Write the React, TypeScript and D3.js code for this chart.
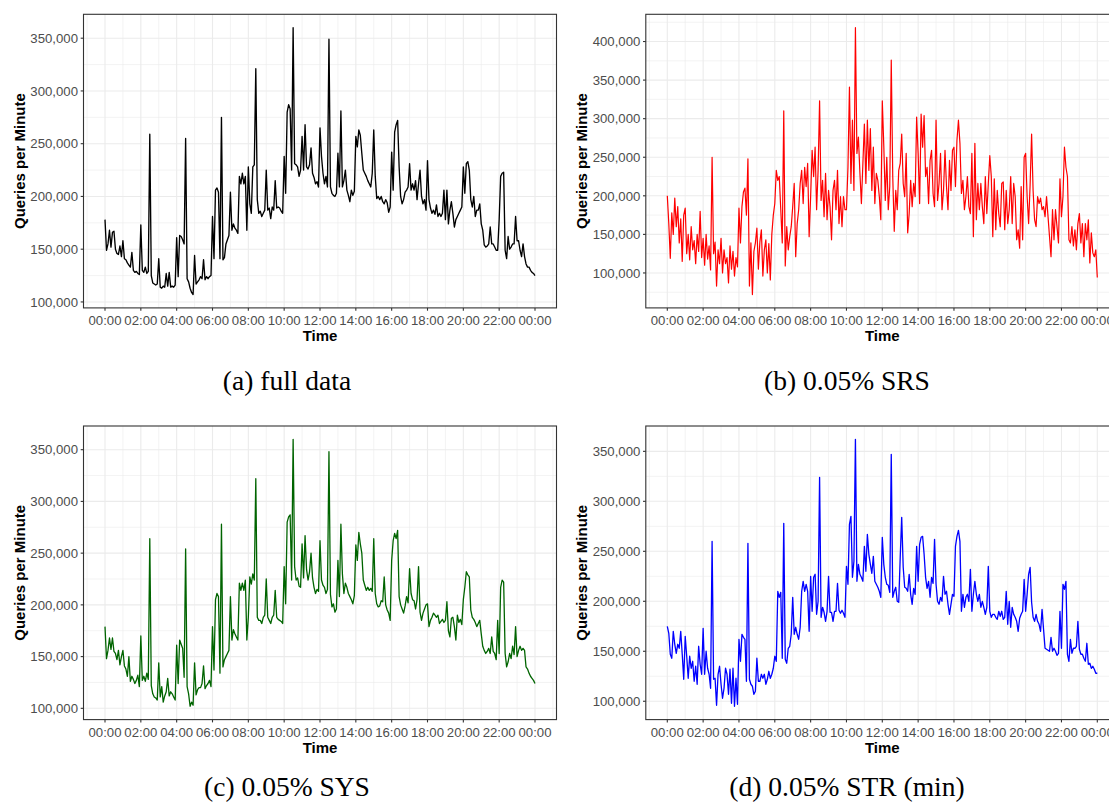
import React from "react";
import * as d3 from "d3";

// Queries per minute over one day, in thousands, one reading every 5 minutes (00:00 … 24:00).
const STEP_MINUTES = 5;

const FULL_DATA = [
  178, 149, 155, 168, 152, 166, 167, 150, 146, 145, 153, 143,
  158, 141, 140, 137, 135, 133, 147, 130, 128, 129, 127, 126,
  173, 130, 128, 133, 127, 129, 259, 125, 118, 117, 116, 117,
  141, 114, 113, 115, 114, 127, 115, 128, 114, 115, 114, 116,
  161, 124, 163, 162, 159, 155, 255, 122, 119, 113, 109, 107,
  144, 117, 119, 121, 124, 122, 140, 121, 124, 122, 124, 125,
  181, 141, 206, 208, 204, 141, 275, 140, 142, 155, 159, 163,
  204, 168, 174, 170, 168, 165, 219, 212, 222, 212, 219, 168,
  228, 193, 184, 228, 230, 321, 197, 184, 186, 181, 184, 187,
  225, 187, 189, 179, 190, 187, 215, 189, 190, 189, 186, 184,
  238, 203, 280, 287, 283, 225, 360, 231, 230, 228, 219, 225,
  257, 225, 268, 228, 226, 230, 246, 222, 218, 212, 214, 209,
  265, 238, 222, 212, 219, 209, 349, 209, 203, 201, 200, 203,
  241, 209, 281, 209, 215, 225, 206, 201, 195, 206, 201, 205,
  257, 247, 263, 258, 241, 225, 222, 219, 215, 212, 209, 222,
  263, 219, 198, 200, 197, 200, 195, 193, 197, 194, 185, 190,
  242, 206, 261, 268, 272, 228, 200, 193, 197, 204, 206, 209,
  231, 206, 212, 206, 215, 197, 212, 225, 200, 193, 197, 187,
  234, 197, 189, 184, 187, 183, 192, 181, 184, 181, 184, 206,
  178, 206, 174, 187, 195, 184, 171, 178, 181, 184, 187, 190,
  228, 203, 231, 233, 225, 197, 190, 200, 181, 187, 187, 193,
  174, 168, 154, 152, 153, 155, 171, 155, 155, 152, 149, 149,
  178, 219, 222, 223, 149, 141, 162, 150, 152, 155, 155, 181,
  158, 158, 149, 143, 155, 143, 136, 133, 133, 130, 128, 127,
  125,
];

const SRS_DATA = [
  200, 164, 119, 178, 150, 197, 160, 186, 139, 170, 115, 175,
  184, 125, 150, 117, 160, 130, 142, 112, 150, 128, 180, 120,
  145, 110, 150, 118, 135, 104, 250, 125, 140, 83, 130, 112,
  145, 100, 130, 112, 120, 87, 135, 105, 128, 96, 120, 108,
  184, 139, 186, 205, 210, 175, 248, 83, 139, 72, 128, 139,
  158, 105, 140, 156, 96, 130, 143, 100, 138, 91, 150, 175,
  190, 233, 220, 225, 182, 139, 310, 109, 160, 130, 147, 160,
  186, 216, 121, 164, 182, 216, 233, 190, 237, 212, 242, 147,
  199, 259, 225, 263, 182, 233, 323, 194, 220, 173, 229, 169,
  207, 186, 143, 207, 220, 182, 233, 164, 199, 160, 199, 182,
  182, 237, 341, 216, 298, 207, 418, 255, 276, 230, 190, 242,
  293, 216, 298, 233, 287, 207, 263, 190, 229, 220, 199, 169,
  323, 265, 194, 250, 182, 212, 376, 225, 154, 207, 182, 233,
  242, 280, 216, 199, 255, 152, 177, 220, 186, 216, 199, 302,
  255, 190, 306, 263, 304, 225, 237, 190, 246, 259, 203, 186,
  298, 194, 216, 255, 182, 207, 259, 212, 182, 246, 207, 259,
  263, 212, 272, 298, 268, 203, 220, 182, 199, 225, 186, 177,
  255, 147, 268, 169, 216, 182, 216, 186, 164, 225, 177, 216,
  252, 225, 147, 222, 156, 207, 177, 160, 216, 218, 156, 207,
  164, 182, 225, 164, 216, 199, 143, 156, 132, 212, 143, 250,
  255, 199, 164, 214, 280, 207, 169, 160, 199, 190, 197, 182,
  186, 173, 199, 173, 147, 121, 182, 143, 182, 160, 139, 222,
  173, 199, 263, 237, 225, 143, 139, 160, 135, 156, 130, 164,
  177, 139, 164, 121, 164, 143, 169, 113, 152, 126, 121, 130,
  94,
];

const SYS_DATA = [
  179, 148, 156, 168, 157, 168, 155, 153, 147, 156, 142, 150,
  156, 141, 138, 131, 150, 126, 131, 128, 124, 127, 132, 121,
  170, 127, 131, 126, 134, 128, 264, 122, 114, 111, 110, 108,
  144, 111, 121, 106, 112, 116, 129, 112, 116, 114, 111, 108,
  161, 124, 166, 162, 158, 130, 254, 121, 114, 102, 106, 103,
  144, 113, 118, 120, 120, 124, 141, 119, 122, 124, 127, 121,
  179, 137, 205, 211, 208, 134, 278, 140, 147, 150, 153, 156,
  208, 166, 176, 172, 169, 166, 221, 214, 221, 214, 224, 166,
  188, 227, 220, 230, 224, 322, 188, 185, 185, 182, 188, 190,
  225, 188, 185, 182, 188, 190, 214, 188, 186, 185, 184, 182,
  237, 201, 280, 285, 287, 224, 360, 237, 224, 226, 218, 217,
  259, 226, 267, 234, 224, 232, 250, 226, 217, 211, 215, 213,
  262, 224, 219, 217, 211, 215, 348, 210, 198, 201, 193, 196,
  243, 208, 278, 230, 211, 221, 217, 211, 208, 205, 201, 209,
  258, 243, 270, 259, 250, 224, 219, 214, 217, 214, 216, 213,
  264, 211, 201, 198, 199, 204, 203, 227, 200, 195, 192, 185,
  243, 262, 269, 264, 272, 208, 200, 196, 192, 199, 208, 202,
  235, 211, 205, 204, 196, 205, 237, 193, 185, 192, 196, 200,
  201, 179, 185, 188, 192, 190, 188, 190, 182, 184, 186, 183,
  185, 203, 175, 169, 187, 188, 179, 166, 190, 183, 186, 181,
  205, 217, 232, 229, 227, 195, 188, 186, 183, 179, 182, 185,
  172, 160, 156, 153, 155, 158, 153, 169, 155, 153, 147, 185,
  153, 217, 224, 222, 153, 140, 145, 153, 148, 160, 152, 179,
  150, 156, 160, 156, 158, 156, 140, 138, 134, 131, 129, 127,
  124,
];

const STR_DATA = [
  175, 168, 147, 143, 170, 157, 148, 157, 153, 170, 147, 122,
  165, 145, 123, 145, 133, 140, 120, 135, 117, 155, 137, 127,
  173, 127, 150, 133, 127, 113, 260, 122, 123, 96, 127, 135,
  117, 103, 113, 133, 127, 107, 132, 98, 133, 95, 123, 97,
  162, 140, 167, 164, 162, 120, 258, 122, 117, 115, 107, 110,
  143, 120, 120, 127, 123, 127, 117, 122, 130, 123, 127, 133,
  145, 140, 210, 204, 209, 143, 278, 142, 138, 153, 155, 167,
  204, 167, 174, 167, 162, 174, 210, 220, 210, 217, 210, 170,
  225, 190, 224, 227, 187, 200, 324, 184, 194, 189, 180, 190,
  225, 189, 189, 180, 190, 190, 218, 191, 188, 191, 188, 184,
  235, 217, 277, 285, 224, 240, 362, 220, 237, 227, 224, 220,
  255, 230, 267, 247, 237, 228, 245, 220, 217, 214, 210, 204,
  264, 237, 224, 217, 216, 209, 347, 204, 210, 214, 200, 199,
  244, 284, 234, 214, 213, 210, 227, 207, 197, 213, 207, 255,
  220, 257, 264, 265, 247, 224, 213, 220, 204, 224, 218, 262,
  217, 200, 197, 204, 200, 225, 207, 210, 197, 187, 197, 207,
  205, 255, 265, 271, 260, 190, 207, 194, 204, 207, 200, 232,
  190, 207, 220, 207, 200, 207, 194, 200, 194, 187, 194, 235,
  190, 184, 187, 187, 184, 182, 190, 185, 190, 182, 184, 210,
  177, 200, 174, 194, 187, 184, 180, 170, 183, 187, 190, 222,
  190, 207, 227, 234, 199, 184, 180, 187, 180, 177, 170, 192,
  172, 153, 152, 151, 150, 164, 150, 153, 150, 146, 148, 190,
  153, 217, 212, 220, 147, 140, 162, 148, 153, 153, 155, 180,
  152, 147, 147, 143, 140, 158, 137, 138, 133, 135, 132, 128,
  128,
];

// Axis breaks
const TIME_TICK_HOURS = [0, 2, 4, 6, 8, 10, 12, 14, 16, 18, 20, 22, 24];
const Y_TICKS_350 = [100, 150, 200, 250, 300, 350];
const Y_TICKS_400 = [100, 150, 200, 250, 300, 350, 400];

const CAPTIONS = ["(a) full data", "(b) 0.05% SRS", "(c) 0.05% SYS", "(d) 0.05% STR (min)"];

const SANS = "'Liberation Sans', Arial, Helvetica, sans-serif";
const SERIF = "'Liberation Serif', 'Times New Roman', serif";

const PANEL_W = 473;
const PANEL_H = 293.6;

type PanelProps = {
  values: number[];
  color: string;
  lineWidth: number;
  left: number;
  top: number;
  yTicks: number[];
  caption: string;
  captionX: number;
  captionY: number;
};

function Panel({ values, color, lineWidth, left, top, yTicks, caption, captionX, captionY }: PanelProps) {
  const right = left + PANEL_W;
  const bottom = top + PANEL_H;

  const span = 24 * 60;
  const xPad = span * 0.05;
  const x = d3.scaleLinear().domain([-xPad, span + xPad]).range([left, right]);

  const [lo, hi] = d3.extent(values) as [number, number];
  const yPad = (hi - lo) * 0.05;
  const y = d3.scaleLinear().domain([lo - yPad, hi + yPad]).range([bottom, top]);

  const pts: [number, number][] = values.map((v, i) => [i * STEP_MINUTES, v]);
  const path = d3
    .line<[number, number]>()
    .x((d) => x(d[0]))
    .y((d) => y(d[1]))(pts) as string;

  const [d0, d1] = y.domain();
  const step = yTicks[1] - yTicks[0];
  const yMinor: number[] = [];
  for (let v = yTicks[0] - step / 2; v <= yTicks[yTicks.length - 1] + step / 2 + 1e-6; v += step) {
    if (v >= d0 && v <= d1) yMinor.push(v);
  }
  const xMinor: number[] = [];
  for (let h = -1; h <= 25; h += 2) {
    const m = h * 60;
    if (m >= -xPad && m <= span + xPad) xMinor.push(m);
  }

  const fmt = d3.format(",");
  const timeLabel = (h: number) => `${String(h % 24).padStart(2, "0")}:00`;

  return (
    <g>
      <rect x={left} y={top} width={PANEL_W} height={PANEL_H} fill="#ffffff" />
      {/* minor grid */}
      {yMinor.map((v) => (
        <line key={`ym${v}`} x1={left} x2={right} y1={y(v)} y2={y(v)} stroke="#ebebeb" strokeWidth={0.6} />
      ))}
      {xMinor.map((m) => (
        <line key={`xm${m}`} x1={x(m)} x2={x(m)} y1={top} y2={bottom} stroke="#ebebeb" strokeWidth={0.6} />
      ))}
      {/* major grid */}
      {yTicks.map((v) => (
        <line key={`yg${v}`} x1={left} x2={right} y1={y(v)} y2={y(v)} stroke="#ebebeb" strokeWidth={1.1} />
      ))}
      {TIME_TICK_HOURS.map((h) => (
        <line key={`xg${h}`} x1={x(h * 60)} x2={x(h * 60)} y1={top} y2={bottom} stroke="#ebebeb" strokeWidth={1.1} />
      ))}
      {/* series */}
      <path d={path} fill="none" stroke={color} strokeWidth={lineWidth} strokeLinejoin="round" />
      {/* panel border */}
      <rect x={left} y={top} width={PANEL_W} height={PANEL_H} fill="none" stroke="#333333" strokeWidth={1.1} />
      {/* y axis */}
      {yTicks.map((v) => (
        <g key={`yt${v}`}>
          <line x1={left - 2.8} x2={left} y1={y(v)} y2={y(v)} stroke="#333333" strokeWidth={1.1} />
          <text
            x={left - 5.5}
            y={y(v)}
            dy="0.36em"
            textAnchor="end"
            fontFamily={SANS}
            fontSize={13.2}
            fill="#4d4d4d"
          >
            {fmt(v * 1000)}
          </text>
        </g>
      ))}
      {/* x axis */}
      {TIME_TICK_HOURS.map((h) => (
        <g key={`xt${h}`}>
          <line x1={x(h * 60)} x2={x(h * 60)} y1={bottom} y2={bottom + 2.8} stroke="#333333" strokeWidth={1.1} />
          <text
            x={x(h * 60)}
            y={bottom + 17}
            textAnchor="middle"
            fontFamily={SANS}
            fontSize={13.2}
            fill="#4d4d4d"
          >
            {timeLabel(h)}
          </text>
        </g>
      ))}
      <text
        x={(left + right) / 2}
        y={bottom + 33}
        textAnchor="middle"
        fontFamily={SANS}
        fontSize={15}
        fontWeight="bold"
        fill="#000000"
      >
        Time
      </text>
      <text
        transform={`translate(${left - 59},${(top + bottom) / 2}) rotate(-90)`}
        textAnchor="middle"
        fontFamily={SANS}
        fontSize={15}
        fontWeight="bold"
        fill="#000000"
      >
        Queries per Minute
      </text>
      <text x={captionX} y={captionY} textAnchor="middle" fontFamily={SERIF} fontSize={27.5} fill="#000000">
        {caption}
      </text>
    </g>
  );
}

export default function App() {
  const cols = [83.5, 645.8];
  const rows = [14.3, 426];
  const capX = [287, 847];
  const capY = [390, 796];
  return (
    <svg
      width={1109}
      height={804}
      viewBox="0 0 1109 804"
      style={{ position: "absolute", left: 0, top: 0, background: "#ffffff", overflow: "hidden" }}
    >
      <rect x={0} y={0} width={1109} height={804} fill="#ffffff" />
      <Panel values={FULL_DATA} color="#000000" lineWidth={1.35} left={cols[0]} top={rows[0]} yTicks={Y_TICKS_350}
        caption={CAPTIONS[0]} captionX={capX[0]} captionY={capY[0]} />
      <Panel values={SRS_DATA} color="#ff0000" lineWidth={1.2} left={cols[1]} top={rows[0]} yTicks={Y_TICKS_400}
        caption={CAPTIONS[1]} captionX={capX[1]} captionY={capY[0]} />
      <Panel values={SYS_DATA} color="#006400" lineWidth={1.3} left={cols[0]} top={rows[1]} yTicks={Y_TICKS_350}
        caption={CAPTIONS[2]} captionX={capX[0]} captionY={capY[1]} />
      <Panel values={STR_DATA} color="#0000ff" lineWidth={1.3} left={cols[1]} top={rows[1]} yTicks={Y_TICKS_350}
        caption={CAPTIONS[3]} captionX={capX[1]} captionY={capY[1]} />
    </svg>
  );
}
